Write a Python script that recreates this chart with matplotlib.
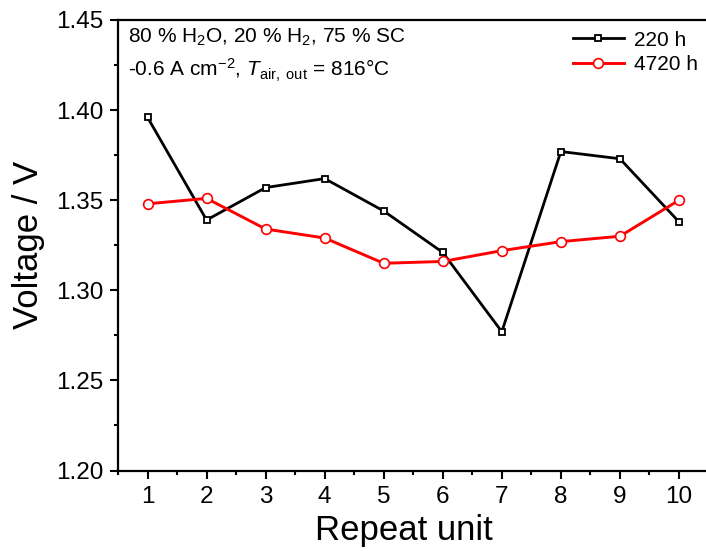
import matplotlib
matplotlib.use("Agg")
import matplotlib.pyplot as plt
from matplotlib.ticker import MultipleLocator

plt.rcParams['font.family'] = ['Liberation Sans', 'DejaVu Sans']
plt.rcParams['mathtext.fontset'] = 'custom'
plt.rcParams['mathtext.rm'] = 'Liberation Sans'
plt.rcParams['mathtext.it'] = 'Liberation Sans:italic'
plt.rcParams['mathtext.bf'] = 'Liberation Sans:bold'

units = [1, 2, 3, 4, 5, 6, 7, 8, 9, 10]
v_220 = [1.396, 1.339, 1.357, 1.362, 1.344, 1.321, 1.277, 1.377, 1.373, 1.338]
v_4720 = [1.348, 1.351, 1.334, 1.329, 1.315, 1.316, 1.322, 1.327, 1.330, 1.350]
xticks = list(range(1, 11))
yticks = [1.20, 1.25, 1.30, 1.35, 1.40, 1.45]

W, H = 706, 551
fig = plt.figure(figsize=(W/100, H/100), dpi=100)
left, right, top, bottom = 118, 708.5, 20, 470.5
aw, ah = right-left, bottom-top
ax = fig.add_axes([left/W, 1-bottom/H, aw/W, ah/H])

ax.plot(units, v_220, color='black', lw=2.0, marker='s', ms=4.6, mfc='white',
        mec='black', mew=1.3, label='220 h')
ax.plot(units, v_4720, color='#ff0000', lw=2.1, marker='o', ms=7, mfc='white',
        mec='#ff0000', mew=1.2, label='4720 h')

ax.set_xlim(0.5, 10.5)
ax.set_ylim(1.20, 1.45)
ax.set_xticks(xticks)
ax.set_yticks(yticks)
ax.set_yticklabels([f"{t:.2f}" for t in yticks])
ax.xaxis.set_minor_locator(MultipleLocator(0.5))
ax.yaxis.set_minor_locator(MultipleLocator(0.025))
ax.tick_params(which='major', direction='out', length=6, width=1.5, labelsize=17.5)
ax.tick_params(axis='y', which='major', pad=4.5)
ax.tick_params(axis='x', which='major', pad=5)
ax.tick_params(which='minor', direction='out', length=3, width=1.5)
for s in ax.spines.values():
    s.set_linewidth(1.6)

ax.set_xlabel('Repeat unit', fontsize=25)
ax.xaxis.set_label_coords((404-left)/aw, -(514-bottom)/ah)
ax.set_ylabel('Voltage / V', fontsize=25)
ax.yaxis.set_label_coords((45-left)/aw, 0.5)

ax.text(0.017, 1-(43-top)/ah, '80 % H$_2$O, 20 % H$_2$, 75 % SC', transform=ax.transAxes,
        fontsize=15, va='baseline', ha='left')
ax.text(0.017, 1-(77-top)/ah, r'-0.6 A cm$^{-2}$, $\mathit{T}_{\mathrm{air,\ out}}$ = 816°C',
        transform=ax.transAxes, fontsize=15, va='baseline', ha='left')

ax.legend(loc='upper right', bbox_to_anchor=(0.996, 0.995), borderaxespad=0,
          frameon=False, fontsize=15, handlelength=2.45, handletextpad=0.48,
          labelspacing=0.25)

fig.savefig('out.png', dpi=100)
